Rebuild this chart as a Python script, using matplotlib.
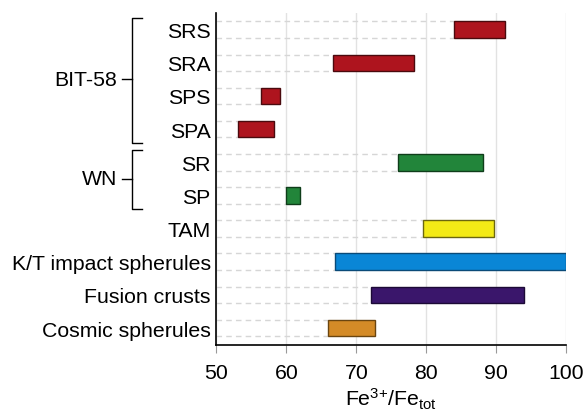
import matplotlib.pyplot as plt
import matplotlib.transforms as mtransforms

plt.rcParams['font.family'] = ['Liberation Sans', 'DejaVu Sans']
plt.rcParams['mathtext.default'] = 'regular'

# Fe3+/Fetot ranges, top to bottom
labels = ['SRS', 'SRA', 'SPS', 'SPA', 'SR', 'SP', 'TAM',
          'K/T impact spherules', 'Fusion crusts', 'Cosmic spherules']
lows = [83.9, 66.6, 56.4, 53.1, 76.0, 60.0, 79.5, 67.0, 72.1, 66.0]
highs = [91.3, 78.3, 59.1, 58.2, 88.1, 62.0, 89.6, 100.0, 93.9, 72.6]
fills = ['#ae141e', '#ae141e', '#ae141e', '#ae141e', '#22853a', '#22853a',
         '#f3ea16', '#0a86d6', '#3a166b', '#d48b27']
edges = ['#4a0a0e', '#4a0a0e', '#4a0a0e', '#4a0a0e', '#0f3d1a', '#0f3d1a',
         '#6b6610', '#0a4a78', '#1c0a36', '#6a4510']

# group brackets: (name, first row, last row)
groups = [('BIT-58', 0, 3), ('WN', 4, 5)]

fs = 15.3

fig = plt.figure(figsize=(5.87, 4.14), dpi=100)
ax = fig.add_axes([0.3685, 0.165, 0.5963, 0.801])

rows = list(range(len(labels)))
h = 0.5
for i in rows:
    ax.barh(i, highs[i] - lows[i], left=lows[i], height=h,
            color=fills[i], edgecolor=edges[i], linewidth=1, zorder=3)
    for yy in (i - h / 2, i + h / 2):
        ax.plot([50, lows[i]], [yy, yy], color='#d6d6d6', lw=1,
                ls=(0, (4, 3)), zorder=2)

ax.set_xlim(50, 100)
ax.set_ylim(len(labels) - 0.5, -0.5)
ax.set_yticks(rows)
ax.set_yticklabels(labels, fontsize=fs)
ax.set_xticks([50, 60, 70, 80, 90, 100])
ax.tick_params(axis='x', labelsize=fs, length=6, color='#999999', pad=7)
ax.tick_params(axis='y', length=0, pad=4)
ax.grid(axis='x', color='#e2e2e2', lw=1, zorder=0)
ax.set_axisbelow(True)
for s in ('top', 'right'):
    ax.spines[s].set_visible(False)
ax.spines['left'].set_linewidth(1.2)
ax.spines['bottom'].set_linewidth(1.2)
ax.set_xlabel('Fe$^{3{+}}$/Fe$_{tot}$', fontsize=fs, labelpad=3)

# brackets for sample groups
trans = mtransforms.blended_transform_factory(ax.transAxes, ax.transData)
for name, a, b in groups:
    top = a - 0.36
    bot = b + 0.42
    mid = (a + b) / 2
    ax.plot([-0.213, -0.242, -0.242, -0.213], [top, top, bot, bot],
            color='black', lw=1, transform=trans, clip_on=False)
    ax.plot([-0.27, -0.242], [mid, mid], color='black', lw=1,
            transform=trans, clip_on=False)
    ax.text(-0.284, mid, name, fontsize=fs, ha='right', va='center',
            transform=trans)

fig.savefig('out.png', dpi=100)
